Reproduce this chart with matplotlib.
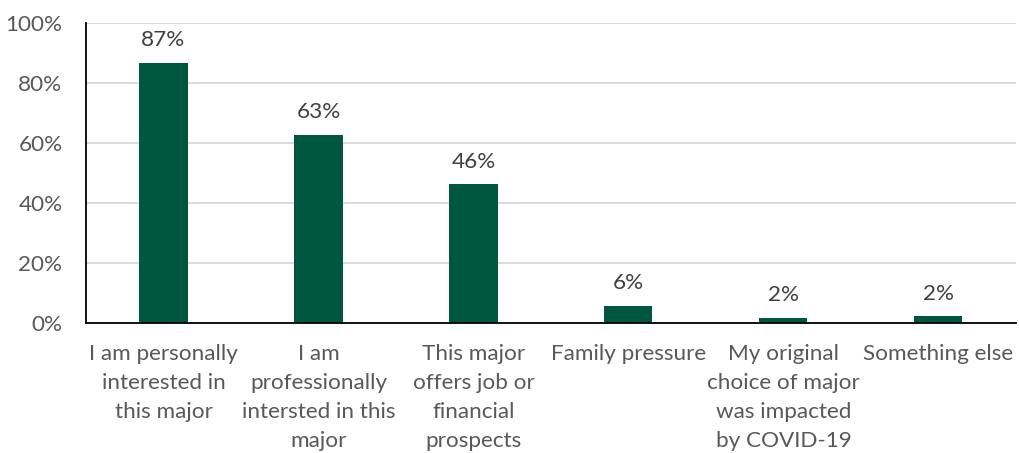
import matplotlib.pyplot as plt
import numpy as np

categories = ['I am personally\ninterested in\nthis major',
              'I am\nprofessionally\nintersted in this\nmajor',
              'This major\noffers job or\nfinancial\nprospects',
              'Family pressure',
              'My original\nchoice of major\nwas impacted\nby COVID-19',
              'Something else']
values = [86.8, 62.7, 46.3, 5.7, 1.7, 2.3]
yticks = [0, 20, 40, 60, 80, 100]

plt.rcParams['font.family'] = ['Lato', 'DejaVu Sans']
FS = 16.2

fig = plt.figure(figsize=(10.19, 4.53), dpi=100)
ax = fig.add_axes([0.0844, 0.287, 0.9126, 0.662])

x = np.arange(len(categories))
bars = ax.bar(x, values, width=0.31, color='#00573F', zorder=3)

for b, v in zip(bars, values):
    ax.annotate('%.0f%%' % v, (b.get_x() + b.get_width() / 2, v),
                xytext=(0, 9), textcoords='offset points',
                ha='center', va='bottom', fontsize=FS, color='#404040')

ax.set_xlim(-0.5, len(categories) - 0.5)
ax.set_ylim(0, 100)
ax.set_yticks(yticks)
ax.set_yticklabels(['%d%%' % t for t in yticks])
ax.set_xticks(x)
ax.set_xticklabels(categories, linespacing=1.57)

ax.tick_params(axis='y', length=0, pad=17, labelsize=FS, labelcolor='#595959')
ax.tick_params(axis='x', length=0, pad=15, labelsize=FS, labelcolor='#595959')
ax.grid(axis='y', color='#d9d9d9', linewidth=1.3, zorder=0)

for s in ['top', 'right']:
    ax.spines[s].set_visible(False)
ax.spines['left'].set_color('black')
ax.spines['bottom'].set_color('black')
ax.spines['left'].set_linewidth(1.3)
ax.spines['bottom'].set_linewidth(1.3)
ax.spines['left'].set_zorder(4)
ax.spines['bottom'].set_zorder(4)

fig.savefig('out.png', dpi=100)
